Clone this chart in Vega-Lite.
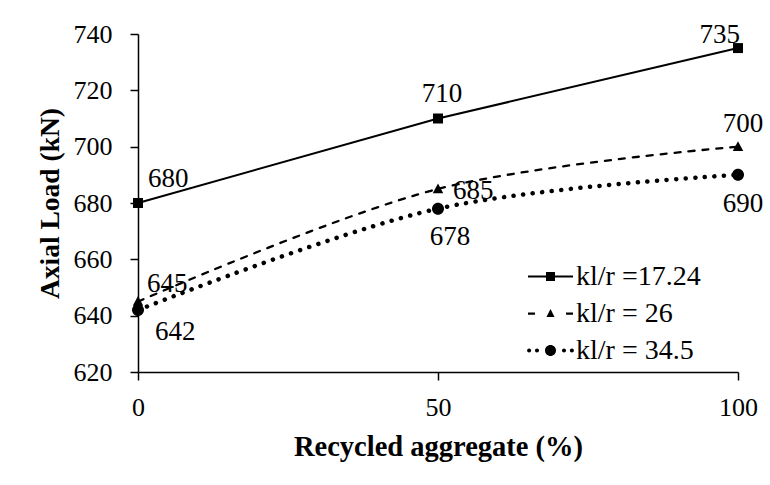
{
  "$schema": "https://vega.github.io/schema/vega-lite/v6.json",
  "width": 600,
  "height": 338,
  "autosize": "none",
  "padding": {"left": 138, "top": 34, "right": 32, "bottom": 113},
  "background": "white",
  "config": {
    "view": {"stroke": null},
    "font": "Liberation Serif",
    "axis": {
      "grid": false,
      "domainColor": "black",
      "domainWidth": 1.5,
      "tickColor": "black",
      "tickWidth": 1.5,
      "tickSize": 8,
      "labelFont": "Liberation Serif",
      "labelFontSize": 26,
      "labelColor": "black",
      "titleFont": "Liberation Serif",
      "titleFontWeight": "bold",
      "titleColor": "black"
    }
  },
  "data": {
    "values": [
      {"series": "kl/r =17.24", "ra": 0, "load": 680},
      {"series": "kl/r =17.24", "ra": 50, "load": 710},
      {"series": "kl/r =17.24", "ra": 100, "load": 735},
      {"series": "kl/r = 26", "ra": 0, "load": 645},
      {"series": "kl/r = 26", "ra": 50, "load": 685},
      {"series": "kl/r = 26", "ra": 100, "load": 700},
      {"series": "kl/r = 34.5", "ra": 0, "load": 642},
      {"series": "kl/r = 34.5", "ra": 50, "load": 678},
      {"series": "kl/r = 34.5", "ra": 100, "load": 690}
    ]
  },
  "encoding": {
    "x": {
      "field": "ra", "type": "quantitative",
      "scale": {"domain": [0, 100]},
      "axis": {"values": [0, 50, 100], "title": "Recycled aggregate (%)", "titleFontSize": 28.5, "labelPadding": 14, "titlePadding": 12, "labelFlush": false}
    },
    "y": {
      "field": "load", "type": "quantitative",
      "scale": {"domain": [620, 740]},
      "axis": {"values": [620, 640, 660, 680, 700, 720, 740], "title": "Axial Load (kN)", "titleFontSize": 27.5, "labelPadding": 18, "titlePadding": 9}
    }
  },
  "resolve": {"scale": {"shape": "independent"}},
  "layer": [
    {
      "transform": [{"filter": "datum.series === 'kl/r =17.24'"}],
      "mark": {"type": "line", "color": "black", "strokeWidth": 2},
      "encoding": {}
    },
    {
      "transform": [{"filter": "datum.series === 'kl/r = 26'"}],
      "mark": {"type": "line", "color": "black", "strokeWidth": 2.3, "interpolate": "catmull-rom", "strokeDash": [6, 8], "strokeCap": "round"},
      "encoding": {}
    },
    {
      "transform": [{"filter": "datum.series === 'kl/r = 34.5'"}],
      "mark": {"type": "line", "color": "black", "strokeWidth": 4.5, "interpolate": "catmull-rom", "strokeDash": [0.1, 9.5], "strokeCap": "round"},
      "encoding": {}
    },
    {
      "mark": {"type": "point", "filled": true, "color": "black", "opacity": 1, "size": 100, "strokeWidth": 0},
      "encoding": {
        "shape": {
          "field": "series", "type": "nominal",
          "scale": {
            "domain": ["kl/r =17.24", "kl/r = 26", "kl/r = 34.5"],
            "range": [
              "M-1,-1H1V1H-1Z",
              "M0,-1.1L1.05,0.85H-1.05Z",
              "M-1.2,0a1.2,1.2 0 1,0 2.4,0a1.2,1.2 0 1,0 -2.4,0"
            ]
          },
          "legend": null
        }
      }
    },
    {
      "mark": {"type": "point", "filled": true, "color": "black", "opacity": 0, "size": 2025, "strokeWidth": 0},
      "encoding": {
        "shape": {
          "field": "series", "type": "nominal",
          "scale": {
            "domain": ["kl/r =17.24", "kl/r = 26", "kl/r = 34.5"],
            "range": [
              "M-1,-0.045H1V0.045H-1ZM-0.2,-0.2H0.2V0.2H-0.2Z",
              "M-1,-0.05H-0.69V0.05H-1ZM0.69,-0.05H1V0.05H0.69ZM0,-0.2L0.18,0.15H-0.18Z",
              "M-1.04,0a0.09,0.09 0 1,0 0.18,0a0.09,0.09 0 1,0 -0.18,0M-0.69,0a0.09,0.09 0 1,0 0.18,0a0.09,0.09 0 1,0 -0.18,0M0.51,0a0.09,0.09 0 1,0 0.18,0a0.09,0.09 0 1,0 -0.18,0M0.86,0a0.09,0.09 0 1,0 0.18,0a0.09,0.09 0 1,0 -0.18,0M-0.245,0a0.245,0.245 0 1,0 0.49,0a0.245,0.245 0 1,0 -0.49,0"
            ]
          },
          "legend": {
            "orient": "none",
            "legendX": 390,
            "legendY": 220,
            "title": null,
            "padding": 0,
            "symbolSize": 2025,
            "symbolStrokeWidth": 0,
            "symbolFillColor": "black",
            "symbolOpacity": 1,
            "labelFont": "Liberation Serif",
            "labelFontSize": 28,
            "labelColor": "black",
            "labelOffset": 3,
            "rowPadding": -3,
            "encode": {
              "symbols": {
                "fill": {"value": "black"},
                "opacity": {"value": 1}
              }
            }
          }
        }
      }
    },
    {
      "transform": [{"filter": "datum.series === 'kl/r =17.24' && datum.ra === 0"}],
      "mark": {"type": "text", "font": "Liberation Serif", "fontSize": 27, "color": "black", "align": "left", "baseline": "alphabetic", "dx": 10, "dy": -16},
      "encoding": {"text": {"field": "load", "type": "quantitative"}}
    },
    {
      "transform": [{"filter": "datum.series === 'kl/r =17.24' && datum.ra === 50"}],
      "mark": {"type": "text", "font": "Liberation Serif", "fontSize": 27, "color": "black", "align": "center", "baseline": "alphabetic", "dx": 4, "dy": -17},
      "encoding": {"text": {"field": "load", "type": "quantitative"}}
    },
    {
      "transform": [{"filter": "datum.series === 'kl/r =17.24' && datum.ra === 100"}],
      "mark": {"type": "text", "font": "Liberation Serif", "fontSize": 27, "color": "black", "align": "right", "baseline": "alphabetic", "dx": 2, "dy": -5},
      "encoding": {"text": {"field": "load", "type": "quantitative"}}
    },
    {
      "transform": [{"filter": "datum.series === 'kl/r = 26' && datum.ra === 0"}],
      "mark": {"type": "text", "font": "Liberation Serif", "fontSize": 27, "color": "black", "align": "left", "baseline": "alphabetic", "dx": 9, "dy": -10},
      "encoding": {"text": {"field": "load", "type": "quantitative"}}
    },
    {
      "transform": [{"filter": "datum.series === 'kl/r = 26' && datum.ra === 50"}],
      "mark": {"type": "text", "font": "Liberation Serif", "fontSize": 27, "color": "black", "align": "left", "baseline": "alphabetic", "dx": 15, "dy": 10},
      "encoding": {"text": {"field": "load", "type": "quantitative"}}
    },
    {
      "transform": [{"filter": "datum.series === 'kl/r = 26' && datum.ra === 100"}],
      "mark": {"type": "text", "font": "Liberation Serif", "fontSize": 27, "color": "black", "align": "center", "baseline": "alphabetic", "dx": 5, "dy": -15},
      "encoding": {"text": {"field": "load", "type": "quantitative"}}
    },
    {
      "transform": [{"filter": "datum.series === 'kl/r = 34.5' && datum.ra === 0"}],
      "mark": {"type": "text", "font": "Liberation Serif", "fontSize": 27, "color": "black", "align": "left", "baseline": "alphabetic", "dx": 17, "dy": 30},
      "encoding": {"text": {"field": "load", "type": "quantitative"}}
    },
    {
      "transform": [{"filter": "datum.series === 'kl/r = 34.5' && datum.ra === 50"}],
      "mark": {"type": "text", "font": "Liberation Serif", "fontSize": 27, "color": "black", "align": "center", "baseline": "alphabetic", "dx": 12, "dy": 36},
      "encoding": {"text": {"field": "load", "type": "quantitative"}}
    },
    {
      "transform": [{"filter": "datum.series === 'kl/r = 34.5' && datum.ra === 100"}],
      "mark": {"type": "text", "font": "Liberation Serif", "fontSize": 27, "color": "black", "align": "center", "baseline": "alphabetic", "dx": 5, "dy": 37},
      "encoding": {"text": {"field": "load", "type": "quantitative"}}
    }
  ]
}
